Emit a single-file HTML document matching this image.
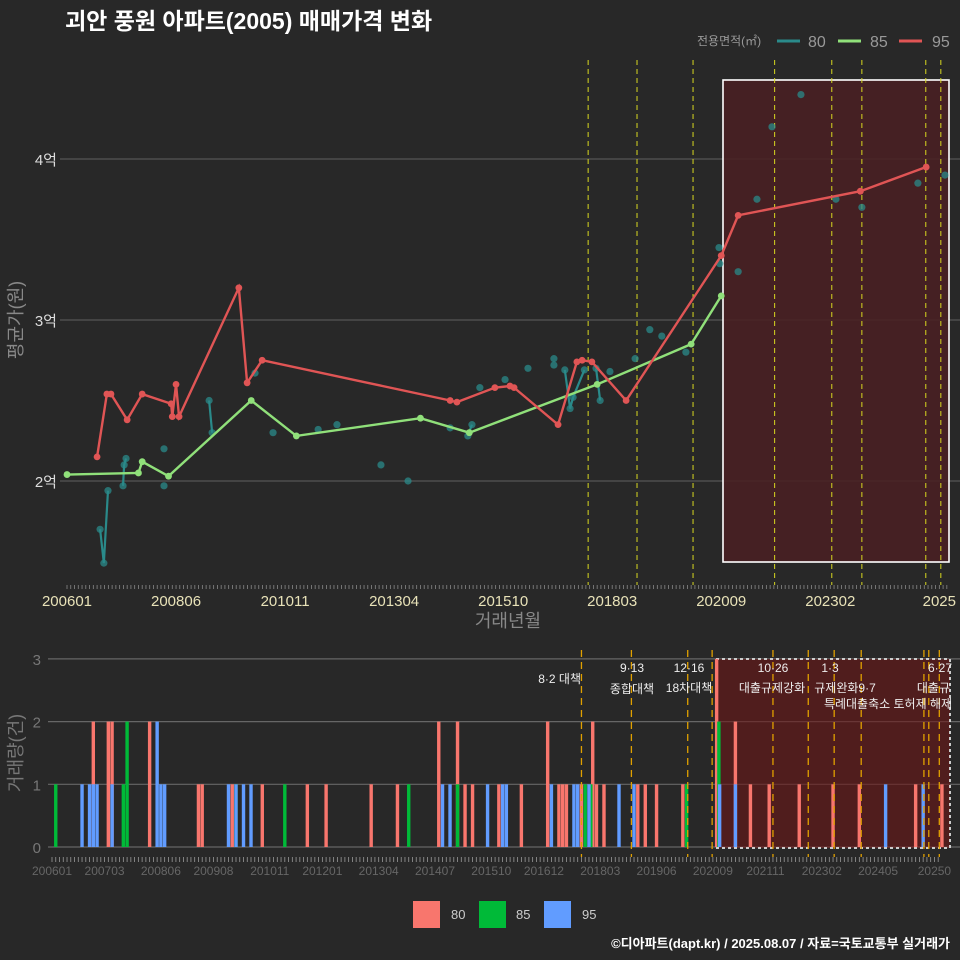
<!DOCTYPE html>
<html><head><meta charset="utf-8">
<style>
html,body{margin:0;padding:0;background:#282828;}
svg{display:block;font-family:"Liberation Sans","Noto Sans CJK KR",sans-serif;}
</style></head>
<body>
<svg id="c" width="960" height="960" viewBox="0 0 960 960" xmlns="http://www.w3.org/2000/svg">
<rect x="0" y="0" width="960" height="960" fill="#282828"/>
<text x="65" y="29" fill="#ffffff" font-size="23" font-weight="bold">괴안 풍원 아파트(2005) 매매가격 변화</text>
<g>
<text x="697" y="45" fill="#999" font-size="12">전용면적(㎡)</text>
<line x1="777" y1="41" x2="800" y2="41" stroke="#2a8a8a" stroke-width="3"/>
<text x="808" y="47" fill="#999" font-size="16">80</text>
<line x1="838" y1="41" x2="861" y2="41" stroke="#90e07a" stroke-width="3"/>
<text x="870" y="47" fill="#999" font-size="16">85</text>
<line x1="899" y1="41" x2="922" y2="41" stroke="#e05555" stroke-width="3"/>
<text x="932" y="47" fill="#999" font-size="16">95</text>
</g>
<g id="topg"></g>
<g id="bot"></g>
<g>
<rect x="413" y="901" width="27" height="27" fill="#f8766d"/>
<text x="451" y="919" fill="#ccc" font-size="13">80</text>
<rect x="479" y="901" width="27" height="27" fill="#00ba38"/>
<text x="516" y="919" fill="#ccc" font-size="13">85</text>
<rect x="544" y="901" width="27" height="27" fill="#619cff"/>
<text x="582" y="919" fill="#ccc" font-size="13">95</text>
</g>
<text x="950" y="948" fill="#fff" font-size="13" font-weight="bold" text-anchor="end">©디아파트(dapt.kr) / 2025.08.07 / 자료=국토교통부 실거래가</text>
</svg>
<script>
// ---- top chart data (month index from 2006-01, value in 억) ----
const topTickMonths=[0,29,58,87,116,145,174,203,232];
const topTickLabels=["200601","200806","201011","201304","201510","201803","202009","202302","2025"];
const yTicks=[2,3,4];
const yTickLabels=["2억","3억","4억"];
const s85m=[0,19,20,27,49,61,94,107,141,166,174];
const s85v=[2.04,2.05,2.12,2.03,2.50,2.28,2.39,2.30,2.60,2.85,3.15];
const s95m=[8,10.6,11.7,16,20,27.7,28,29,29.8,45.7,47.9,51.9,101.9,103.7,113.8,117.8,118.9,130.6,135.6,137,139.6,148.7,174,178.5,211,228.5];
const s95v=[2.15,2.54,2.54,2.38,2.54,2.48,2.40,2.60,2.40,3.20,2.61,2.75,2.50,2.49,2.58,2.59,2.58,2.35,2.74,2.75,2.74,2.50,3.40,3.65,3.80,3.95];
const s80m=[8.8,9.8,10.9,14.9,15.2,15.7,25.8,25.8,37.8,38.6,50,54.8,66.8,71.8,83.5,90.7,101.9,106.6,107.7,109.8,116.5,122.6,129.5,129.5,132.4,133.8,134.6,137.6,140.7,141.8,144.4,151.1,155,158.2,164.6,173.4,173.6,178.5,183.5,187.5,195.2,204.5,211.4,226.3,233.5];
const s80v=[1.70,1.49,1.94,1.97,2.10,2.14,2.20,1.97,2.50,2.30,2.67,2.30,2.32,2.35,2.10,2.00,2.33,2.28,2.35,2.58,2.63,2.70,2.76,2.72,2.69,2.45,2.52,2.69,2.70,2.50,2.68,2.76,2.94,2.90,2.80,3.45,3.35,3.30,3.75,4.20,4.40,3.75,3.70,3.85,3.90];
const s80runs=[[0,1,2],[3,4,5],[8,9],[17,18],[24,25,26,27],[28,29]];
const topPolicy=[166.5,188.2,203.4,211.4,228.4,232.4];
const topPolicyEarly=[138.6,151.6];
// ---- bottom chart data ----
const barTickMonths=[0,14,29,43,58,72,87,102,117,131,146,161,176,190,205,220,235];
const barTickLabels=["200601","200703","200806","200908","201011","201201","201304","201407","201510","201612","201803","201906","202009","202111","202302","202405","20250"];
const cntTicks=[0,1,2,3];
const bar80m=[11,15,16,26,39,40,48,56,68,73,85,92,103,108,110,112,119,125,132,135,136,137,141,144,145,147,156,158,161,168,177,182,186,191,199,208,215,230,237];
const bar80c=[2,2,2,2,1,1,1,1,1,1,1,1,2,2,1,1,1,1,2,1,1,1,1,2,1,1,1,1,1,1,3,2,1,1,1,1,1,1,1];
const bar85m=[1,19,20,49,62,95,108,142,143.5,169,177.6];
const bar85c=[1,1,2,1,1,1,1,1,1,1,2];
const bar95m=[8,10,11,12,16,28,29,30,47,49,51,53,104,106,116,120,121,133,139,140,143,151,155,177.8,182,222,232];
const bar95c=[1,1,1,1,1,2,1,1,1,1,1,1,1,1,1,1,1,1,1,1,1,1,1,1,1,1,1];
const botPolicy=[141,154.3,169.3,175.8,192,201.4,208.3,215.5,232.2,233.5,236.3];
const NS="http://www.w3.org/2000/svg";
function mk(parent,tag,attrs){const e=document.createElementNS(NS,tag);for(const k in attrs)e.setAttribute(k,attrs[k]);parent.appendChild(e);return e;}
const tx=m=>67+3.76*m;
const ty=v=>481-(v-2)*161;
const bx=m=>52+3.755*m;
const by=c=>847-c*62.7;
const topG=document.getElementById('topg');
yTicks.forEach((v,i)=>{
 const l=mk(topG,'line',{x1:60,x2:960,y1:ty(v),y2:ty(v),stroke:'#555','stroke-width':1.2});
 
 
 const t=mk(topG,'text',{x:57,y:ty(v)+6,fill:'#ddd','font-size':15,'text-anchor':'end'});t.textContent=yTickLabels[i];
 
 
});
const hr=mk(topG,'rect',{x:723,y:80,width:226,height:482,fill:'#4a1f22','fill-opacity':0.85,stroke:'#fff','stroke-width':1.6});


topPolicy.concat(topPolicyEarly).forEach(m=>{
 const l=mk(topG,'line',{x1:tx(m),x2:tx(m),y1:60,y2:585,stroke:'#d8d820','stroke-width':1,'stroke-dasharray':'5,4'});
 
 
});
for(let m=0;m<=234;m++){mk(topG,'line',{x1:tx(m),x2:tx(m),y1:585,y2:589,stroke:'#888','stroke-width':0.8});}
topTickMonths.forEach((m,i)=>{
 const t=mk(topG,'text',{x:tx(m),y:606,fill:'#e8e2b8','font-size':15,'text-anchor':'middle'});t.textContent=topTickLabels[i];
 
 
});
const xt=mk(topG,'text',{x:508,y:627,fill:'#888','font-size':18,'text-anchor':'middle'});xt.textContent='거래년월';


const yt=mk(topG,'text',{x:0,y:0,fill:'#888','font-size':18,'text-anchor':'middle',transform:'translate(22,320) rotate(-90)'});yt.textContent='평균가(원)';


s80m.forEach((m,i)=>{
 const c=mk(topG,'circle',{cx:tx(m),cy:ty(s80v[i]),r:3.6,fill:'#2a8a8a','fill-opacity':0.75});
 
 
});
s80runs.forEach(r=>{
 const p=mk(topG,'polyline',{points:r.map(i=>tx(s80m[i])+','+ty(s80v[i])).join(' '),fill:'none',stroke:'#2a8a8a','stroke-width':2.2});
 
 
});
function series(ms,vs,col,name){
 const p=mk(topG,'polyline',{points:ms.map((m,i)=>tx(m)+','+ty(vs[i])).join(' '),fill:'none',stroke:col,'stroke-width':2.4});
 
 
 ms.forEach((m,i)=>{const c=mk(topG,'circle',{cx:tx(m),cy:ty(vs[i]),r:3.4,fill:col});
 
 });
}
series(s85m,s85v,'#90e07a','85');
series(s95m,s95v,'#e05555','95');
// ---- bottom ----
const bot=document.getElementById('bot');
cntTicks.forEach(c=>{
 const l=mk(bot,'line',{x1:48,x2:960,y1:by(c),y2:by(c),stroke:'#666','stroke-width':1.2});
 
 
 const t=mk(bot,'text',{x:41,y:by(c)+6,fill:'#777','font-size':15,'text-anchor':'end'});t.textContent=c;
 
 
});
const bt=mk(bot,'text',{x:0,y:0,fill:'#777','font-size':18,'text-anchor':'middle',transform:'translate(22,753) rotate(-90)'});bt.textContent='거래량(건)';


const br=mk(bot,'rect',{x:716,y:659,width:234,height:189,fill:'#6a1515','fill-opacity':0.6,stroke:'#ccc','stroke-width':2,'stroke-dasharray':'3,3'});


function bars(ms,cs,col,name){
 ms.forEach((m,i)=>{const r=mk(bot,'rect',{x:bx(m)-1.7,y:by(cs[i]),width:3.4,height:by(0)-by(cs[i]),fill:col});
 
 });
}
bars(bar80m,bar80c,'#f8766d','80');
bars(bar85m,bar85c,'#00ba38','85');
bars(bar95m,bar95c,'#619cff','95');
botPolicy.forEach(m=>{
 const l=mk(bot,'line',{x1:bx(m),x2:bx(m),y1:650,y2:857,stroke:'#e0a000','stroke-width':1.3,'stroke-dasharray':'7,5'});
 
 
});
for(let m=0;m<=236;m++){mk(bot,'line',{x1:bx(m),x2:bx(m),y1:857,y2:862,stroke:'#999','stroke-width':0.8});}
barTickMonths.forEach((m,i)=>{
 const t=mk(bot,'text',{x:bx(m),y:875,fill:'#666','font-size':12,'text-anchor':'middle'});t.textContent=barTickLabels[i];
 
 
});
const notes=[[581,683,'end','8·2 대책'],[632,672,'middle','9·13'],[632,693,'middle','종합대책'],[689,672,'middle','12·16'],[689,692,'middle','18차대책'],[773,672,'middle','10·26'],[772,692,'middle','대출규제강화'],[830,672,'middle','1·3'],[845,692,'middle','규제완화9·7'],[888,708,'middle','특례대출축소 토허제 해제'],[940,672,'middle','6·27'],[950,692,'end','대출규']];
notes.forEach(n=>{const t=mk(bot,'text',{x:n[0],y:n[1],fill:'#eee','font-size':12,'text-anchor':n[2]});t.textContent=n[3];
 
 });
</script>
</body></html>
